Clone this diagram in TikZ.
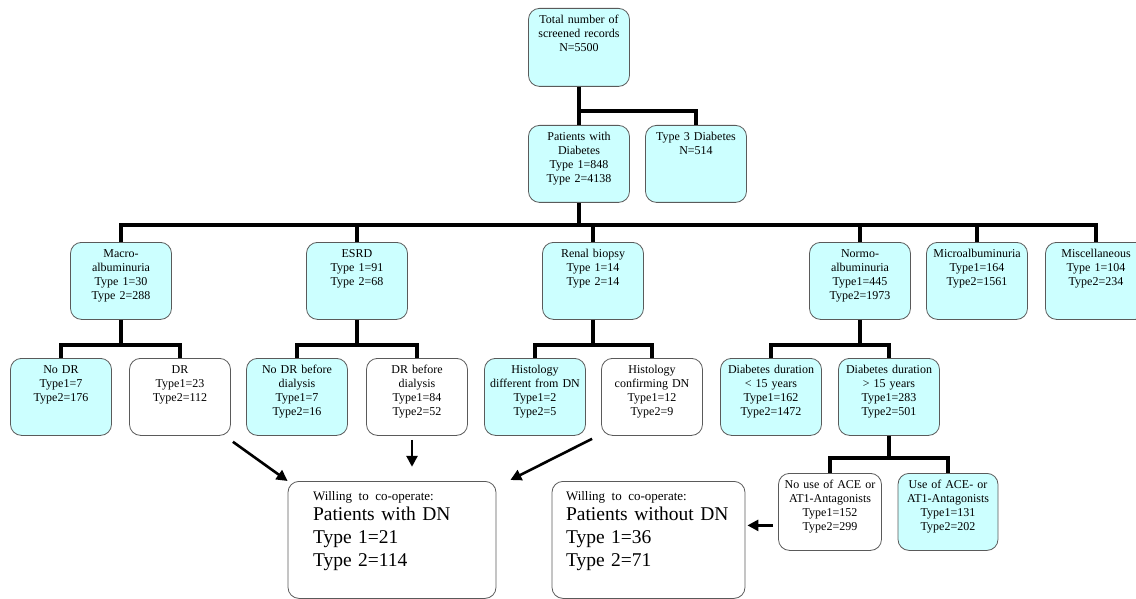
\documentclass[tikz,border=0pt]{standalone}
\usepackage{fontspec}
\setmainfont{Liberation Serif}
\usetikzlibrary{arrows.meta}
\definecolor{boxfill}{RGB}{204,255,255}
\definecolor{boxline}{RGB}{90,90,90}

\begin{document}
\begin{tikzpicture}[x=1pt, y=-1pt,
    box/.style={rectangle, draw=boxline, line width=0.8pt, rounded corners=11pt, fill=boxfill,
                anchor=north, align=center, inner xsep=2pt, inner ysep=0pt,
                text width=97pt, text height=15.5pt, text depth=61.5pt,
                font=\fontsize{12}{14}\selectfont},
    plain/.style={box, fill=white},
    final/.style={plain, align=left, text height=19pt, text depth=98pt,
                  font=\fontsize{19.5}{23}\selectfont},
    tree/.style={line width=4pt, line join=miter},
    arrow/.style={-{Triangle[length=11pt,width=11pt]}, line width=2.6pt}
]
\useasboundingbox (0,0) rectangle (1136,599);

% top levels
\node[box, text depth=62.5pt] (total) at (579,8) {Total number of\\screened records\\N=5500};
\node[box] (diab) at (579,125) {Patients with\\Diabetes\\Type 1=848\\Type 2=4138};
\node[box] (type3) at (696,125) {Type 3 Diabetes\\N=514};

\node[box] (macro) at (121,242) {Macro-\\albuminuria\\Type 1=30\\Type 2=288};
\node[box] (esrd) at (357,242) {ESRD\\Type 1=91\\Type 2=68};
\node[box] (biopsy) at (593,242) {Renal biopsy\\Type 1=14\\Type 2=14};
\node[box] (normo) at (860,242) {Normo-\\albuminuria\\Type1=445\\Type2=1973};
\node[box] (micro) at (977,242) {Microalbuminuria\\Type1=164\\Type2=1561};
\node[box] (misc) at (1096,242) {Miscellaneous\\Type 1=104\\Type2=234};

% third level
\node[box] (nodr) at (61,358) {No DR\\Type1=7\\Type2=176};
\node[plain] (dr) at (180,358) {DR\\Type1=23\\Type2=112};
\node[box] (nodrdia) at (297,358) {No DR before\\dialysis\\Type1=7\\Type2=16};
\node[plain] (drdia) at (417,358) {DR before\\dialysis\\Type1=84\\Type2=52};
\node[box] (histdiff) at (535,358) {Histology\\different from DN\\Type1=2\\Type2=5};
\node[plain] (histconf) at (652,358) {Histology\\confirming DN\\Type1=12\\Type2=9};
\node[box] (durlow) at (771,358) {Diabetes duration\\< 15 years\\Type1=162\\Type2=1472};
\node[box] (durhigh) at (889,358) {Diabetes duration\\> 15 years\\Type1=283\\Type2=501};

\node[plain, text width=99pt] (noace) at (830,473) {No use of ACE or\\AT1-Antagonists\\Type1=152\\Type2=299};
\node[box, text width=96pt] (ace) at (948,473) {Use of ACE- or\\AT1-Antagonists\\Type1=131\\Type2=202};

% result boxes
\node[final, inner xsep=25pt, text width=158pt] (withdn) at (392,481)
  {{\fontsize{13}{15}\selectfont Willing to co-operate:}\\[-3pt]Patients with DN\\Type 1=21\\Type 2=114};
\node[final, inner xsep=14pt, text width=165pt] (withoutdn) at (648.5,481)
  {{\fontsize{13}{15}\selectfont Willing to co-operate:}\\[-3pt]Patients without DN\\Type 1=36\\Type 2=71};

% tree lines
\draw[tree] (total.south) -- (diab.north);
\draw[tree] (total.south) -- ++(0,24) -| (type3.north);
\draw[tree] (diab.south) -- ++(0,22) coordinate (bar2);
\draw[tree] (macro.north) -- (macro.north |- bar2) -- (misc.north |- bar2) -- (misc.north);
\foreach \n in {esrd,biopsy,normo,micro}
  \draw[tree] (\n.north) -- (\n.north |- bar2);
\draw[tree] (macro.south) -- ++(0,25) coordinate (bar3a);
\draw[tree] (nodr.north) |- (bar3a) -| (dr.north);
\draw[tree] (esrd.south) -- ++(0,25) coordinate (bar3b);
\draw[tree] (nodrdia.north) |- (bar3b) -| (drdia.north);
\draw[tree] (biopsy.south) -- ++(0,25) coordinate (bar3c);
\draw[tree] (histdiff.north) |- (bar3c) -| (histconf.north);
\draw[tree] (normo.south) -- ++(0,25) coordinate (bar3d);
\draw[tree] (durlow.north) |- (bar3d) -| (durhigh.north);
\draw[tree] (durhigh.south) -- ++(0,22) coordinate (bar4);
\draw[tree] (noace.north) |- (bar4) -| (ace.north);

% arrows
\draw[arrow] ([shift={(2,6)}]dr.south east) -- (withdn.north west);
\draw[arrow] ([shift={(-5,4)}]drdia.south) -- ++(0,27);
\draw[arrow] ([shift={(-9,3)}]histconf.south west) -- ([shift={(14,-1)}]withdn.north east);
\draw[arrow] ([shift={(-5,13.5)}]noace.west) -- ([shift={(2,-14.5)}]withoutdn.east);
\end{tikzpicture}
\end{document}
